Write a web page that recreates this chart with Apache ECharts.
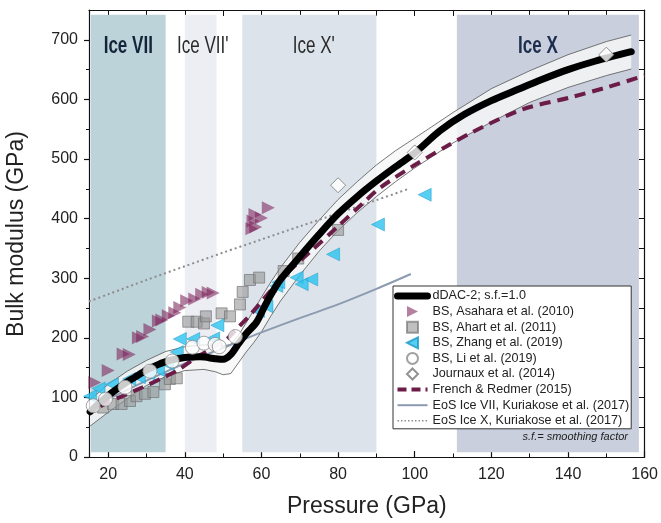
<!DOCTYPE html>
<html>
<head>
<meta charset="utf-8">
<script src="https://cdn.jsdelivr.net/npm/echarts@6/dist/echarts.min.js"></script>
<style>
html,body{margin:0;padding:0;background:#fff;}
#chart{width:661px;height:523px;}
</style>
</head>
<body>
<div id="chart"></div>
<script>
// ---------- DATA ----------
const xMajorTicks = [20, 40, 60, 80, 100, 120, 140, 160];
const xMinorTicks = [30, 50, 70, 90, 110, 130, 150];
const xTopTicks = [20, 30, 40, 50, 60, 70, 80, 90, 100, 110, 120, 130, 140, 150, 160];
const yMajorTicks = [0, 100, 200, 300, 400, 500, 600, 700];
const yMinorTicks = [50, 150, 250, 350, 450, 550, 650];
const yRightTicks = [50, 100, 150, 200, 250, 300, 350, 400, 450, 500, 550, 600, 650, 700];

// phase bands [from, to] in GPa
const bandNames = ["Ice VII", "Ice VII'", "Ice X'", "Ice X"];
const bandFrom = [15.5, 40, 55, 111];
const bandTo = [35, 48.3, 90, 158.5];

// dDAC-2 fit (center) and its envelope
const fitP = [15.3, 18, 21, 24, 27, 30, 33, 36, 40, 44, 48, 50, 52, 54, 56, 58.7, 61, 63, 65, 70, 75, 80, 85, 90, 95, 100, 106.5, 113, 120, 127, 133, 140, 147, 156.5];
const fitK = [76, 92, 108, 122, 134, 146, 155, 162, 167, 168, 165, 164, 172, 190, 207, 226, 255, 278, 298, 336, 373, 408, 437, 463, 487, 510, 547, 575, 598, 617, 633, 650, 664, 680];

const envP = [15.3, 20, 25, 30, 35, 40, 45, 48, 50, 52, 54, 56, 58, 60, 62.5, 65, 70, 75, 80, 85, 90, 95, 100, 110, 120, 130, 140, 150, 156.5];
const envUpper = [96, 122, 144, 162, 177, 185, 188, 188, 186, 189, 204, 225, 246, 268, 294, 318, 360, 397, 432, 462, 490, 514, 535, 578, 618, 648, 675, 697, 708];
const envLower = [52, 75, 98, 120, 135, 145, 147, 143, 138, 140, 158, 176, 192, 210, 237, 262, 305, 345, 380, 410, 437, 462, 485, 527, 562, 595, 620, 640, 651];

// French & Redmer (2015)
const frenchP = [18, 20, 24, 29, 34, 38, 43, 47, 51, 54, 57, 65, 73, 80, 87, 91, 100, 108, 115, 128, 141, 150, 160];
const frenchK = [85, 92, 103, 117, 132, 145, 167, 182, 198, 218, 238, 298, 346, 387, 429, 452, 490, 520, 545, 583, 604, 620, 640];

// EoS Ice VII, Kuriakose et al. (2017)
const eos7P = [15, 20, 30, 40, 50, 60, 70, 80, 90, 99];
const eos7K = [80, 97, 128, 157, 183, 209, 233, 256, 282, 307];

// EoS Ice X, Kuriakose et al. (2017)
const eosXP = [15, 20, 30, 40, 50, 60, 70, 80, 90, 98];
const eosXK = [261, 273, 297, 320, 343, 365, 387, 409, 431, 449];

// BS, Asahara et al. (2010)
const asaharaP = [16.5, 20, 23.9, 25.5, 27.9, 29, 30.9, 33.1, 34, 35.7, 37.4, 38.7, 40.5, 42.6, 44.4, 46.1, 47.4, 57.5, 58.5, 57.8, 58.3, 60, 61.8];
const asaharaK = [125, 145, 173, 172, 200, 202, 214, 228, 230, 237, 242, 251, 262, 265, 273, 276, 275, 383, 386, 396, 407, 401, 418];

// BS, Ahart et al. (2011)
const ahartP = [18.7, 21.3, 23.5, 25.7, 27.4, 29.6, 31.8, 34.8, 36.1, 37.9, 40.9, 43.1, 45, 45.5, 49.6, 51.8, 54.4, 55.1, 57, 59.4, 65.8, 69.6, 80];
const ahartK = [83, 89, 89, 94, 102, 106, 109, 122, 131, 132, 227, 227, 224, 236, 241, 236, 256, 277, 297, 301, 312, 333, 381];

// BS, Zhang et al. (2019)
const zhangP = [15.3, 17.5, 21, 25.5, 28, 30.5, 33, 35.5, 37.9, 38.7, 42.2, 47.4, 48.5, 59.1, 61.3, 63.9, 64.4, 69.2, 70.5, 73, 78.7, 90.4, 102.6];
const zhangK = [102, 115, 122, 131, 134, 140, 146, 156, 176, 198, 198, 199, 221, 245, 253, 287, 293, 301, 290, 298, 340, 390, 440];

// BS, Li et al. (2019)
const liP = [16.1, 19.3, 24.4, 30.9, 36.7, 42, 45, 47.9, 49, 53.2];
const liK = [86, 97, 117, 144, 161, 184, 191, 189, 185, 202];

// Journaux et al. (2014)
const journauxP = [80, 100, 150];
const journauxK = [456, 511, 675];

// ---------- BUILD ----------
const pairs = (xs, ys) => xs.map((x, i) => [x, ys[i]]);
const FONT = "'Liberation Sans', Arial, Helvetica, sans-serif";

const bandColors = ['#bcd3d9', '#eceef4', '#dde3eb', '#c9cfdc'];
const bandLabelColors = ['#14243a', '#2a2a2a', '#2a2a2a', '#1c2d4d'];
const bandLabelWeights = ['bold', 'normal', 'normal', 'bold'];
const bandLabelPxOffset = [0, 2, 4.5, -10];

const bandData = bandNames.map((n, i) => [
  { name: n, xAxis: bandFrom[i], yAxis: 8, itemStyle: { color: bandColors[i] } },
  { xAxis: bandTo[i], yAxis: 742 }
]);

const LEG = {
  fit: 'dDAC-2; s.f.=1.0',
  asa: 'BS, Asahara et al. (2010)',
  aha: 'BS, Ahart et al. (2011)',
  zha: 'BS, Zhang et al. (2019)',
  li: 'BS, Li et al. (2019)',
  jou: 'Journaux et al. (2014)',
  fre: 'French & Redmer (2015)',
  e7: 'EoS Ice VII, Kuriakose et al. (2017)',
  ex: 'EoS Ice X, Kuriakose et al. (2017)'
};

const chart = echarts.init(document.getElementById('chart'), null, { renderer: 'canvas' });

const axisLineStyle = { color: '#111', width: 1.2 };
const noSym = { opacity: 0 };

const option = {
  animation: false,
  backgroundColor: '#fff',
  grid: { left: 89, right: 16, top: 10, bottom: 65, containLabel: false },
  xAxis: [
    {
      type: 'value', min: 15, max: 160, position: 'bottom',
      axisLine: { show: true, onZero: false, lineStyle: axisLineStyle },
      axisTick: { show: true, inside: true, length: 6, customValues: xMajorTicks, lineStyle: { color: '#111', width: 1.2 } },
      axisLabel: { customValues: xMajorTicks, fontSize: 16, color: '#222', margin: 10, fontFamily: FONT },
      splitLine: { show: false },
      name: 'Pressure (GPa)', nameLocation: 'middle', nameGap: 38,
      nameTextStyle: { fontSize: 23, color: '#222', fontFamily: FONT }
    },
    {
      type: 'value', min: 15, max: 160, position: 'bottom',
      axisLine: { show: false, onZero: false },
      axisTick: { show: true, inside: true, length: 3.5, customValues: xMinorTicks, lineStyle: { color: '#111', width: 1 } },
      axisLabel: { show: false }, splitLine: { show: false }
    },
    {
      type: 'value', min: 15, max: 160, position: 'top',
      axisLine: { show: true, onZero: false, lineStyle: axisLineStyle },
      axisTick: { show: true, inside: true, length: 6, customValues: xTopTicks, lineStyle: { color: '#111', width: 1 } },
      axisLabel: { show: false }, splitLine: { show: false }
    }
  ],
  yAxis: [
    {
      type: 'value', min: 0, max: 750, position: 'left',
      axisLine: { show: true, onZero: false, lineStyle: axisLineStyle },
      axisTick: { show: true, inside: false, length: 5, customValues: yMajorTicks, lineStyle: { color: '#111', width: 1.2 } },
      axisLabel: { customValues: yMajorTicks, fontSize: 16, color: '#222', margin: 11, fontFamily: FONT },
      splitLine: { show: false }
    },
    {
      type: 'value', min: 0, max: 750, position: 'left',
      axisLine: { show: false, onZero: false },
      axisTick: { show: true, inside: false, length: 3, customValues: yMinorTicks, lineStyle: { color: '#111', width: 1 } },
      axisLabel: { show: false }, splitLine: { show: false }
    },
    {
      type: 'value', min: 0, max: 750, position: 'right',
      axisLine: { show: true, onZero: false, lineStyle: axisLineStyle },
      axisTick: { show: true, inside: true, length: 6, customValues: yRightTicks, lineStyle: { color: '#111', width: 1 } },
      axisLabel: { show: false }, splitLine: { show: false }
    }
  ],
  legend: {
    orient: 'vertical', left: 393, top: 286,
    backgroundColor: '#fff', borderColor: '#333', borderWidth: 1,
    padding: [3, 2, 1, 1],
    itemWidth: 30, itemHeight: 11, itemGap: 1.6,
    textStyle: { fontSize: 12.6, color: '#222', lineHeight: 14, fontFamily: FONT },
    data: [
      { name: LEG.fit, itemStyle: noSym, lineStyle: { width: 7, cap: 'round', color: '#000' } },
      { name: LEG.asa },
      { name: LEG.aha },
      { name: LEG.zha },
      { name: LEG.li },
      { name: LEG.jou },
      { name: LEG.fre, itemStyle: noSym, lineStyle: { width: 4, type: [9, 5], color: '#6b1c47' } },
      { name: LEG.e7, itemStyle: noSym, lineStyle: { width: 2, color: '#8b9bb0' } },
      { name: LEG.ex, itemStyle: noSym, lineStyle: { width: 1.5, type: [1.5, 2], color: '#8d8d8d' } }
    ],
    selectedMode: false
  },
  graphic: [
    {
      type: 'text', x: 17, y: 234, rotation: Math.PI / 2, z: 100,
      style: { text: 'Bulk modulus (GPa)', fontSize: 23, fontFamily: FONT, fill: '#222', textAlign: 'center', textVerticalAlign: 'middle' }
    },
    {
      type: 'text', x: 628, y: 437, z: 100,
      style: { text: 's.f.= smoothing factor', fontSize: 11, fontStyle: 'italic', fontFamily: FONT, fill: '#222', textAlign: 'right', textVerticalAlign: 'middle' }
    }
  ],
  series: [
    {
      name: 'bands', type: 'line', data: [], z: 1, silent: true,
      markArea: { silent: true, label: { show: false }, data: bandData }
    },
    {
      name: 'envFill', type: 'custom', z: 2, silent: true,
      data: envP.map((p, i) => [p, envLower[i], envUpper[i]]),
      encode: { x: 0, y: [1, 2] },
      renderItem: function (params, api) {
        if (params.dataIndex !== 0) return null;
        const pts = [];
        for (let i = 0; i < envP.length; i++) pts.push(api.coord([envP[i], envUpper[i]]));
        for (let i = envP.length - 1; i >= 0; i--) pts.push(api.coord([envP[i], envLower[i]]));
        return { type: 'polygon', shape: { points: pts }, style: { fill: 'rgba(246,246,246,0.82)' } };
      }
    },
    {
      name: 'envLow', type: 'line', z: 3, silent: true, symbol: 'none',
      data: pairs(envP, envLower),
      lineStyle: { color: '#555', width: 0.8 }
    },
    {
      name: 'envUp', type: 'line', z: 3, silent: true, symbol: 'none',
      data: pairs(envP, envUpper),
      lineStyle: { color: '#555', width: 0.8 }
    },
    {
      name: LEG.e7, type: 'line', z: 3, symbol: 'none', smooth: 0.3,
      data: pairs(eos7P, eos7K),
      lineStyle: { color: '#8b9bb0', width: 2 }, itemStyle: { color: '#8b9bb0' }
    },
    {
      name: LEG.ex, type: 'line', z: 3, symbol: 'none', smooth: 0.3,
      data: pairs(eosXP, eosXK),
      lineStyle: { color: '#8d8d8d', width: 2, type: [2, 3] }, itemStyle: { color: '#8d8d8d' }
    },
    {
      name: LEG.aha, type: 'scatter', z: 4, symbol: 'path://M0,0L10,0L10,10L0,10Z', symbolKeepAspect: true, symbolSize: 11,
      data: pairs(ahartP, ahartK),
      itemStyle: { color: 'rgba(150,150,150,0.75)', borderColor: 'rgba(110,110,110,0.8)', borderWidth: 1 }
    },
    {
      name: LEG.asa, type: 'scatter', z: 4, symbol: 'path://M0,0L10,5L0,10Z', symbolKeepAspect: true, symbolSize: 13,
      data: pairs(asaharaP, asaharaK),
      itemStyle: { color: 'rgba(125,35,90,0.72)' }
    },
    {
      name: LEG.zha, type: 'scatter', z: 5, symbol: 'path://M10,0L0,5L10,10Z', symbolKeepAspect: true, symbolSize: 13,
      data: pairs(zhangP, zhangK),
      itemStyle: { color: '#2cc3f0', borderColor: '#1a98c8', borderWidth: 0.6 }
    },
    {
      name: LEG.fre, type: 'line', z: 6, symbol: 'none', smooth: 0.3,
      data: pairs(frenchP, frenchK),
      lineStyle: { color: '#6b1c47', width: 4, type: [11, 7] }, itemStyle: { color: '#6b1c47' }
    },
    {
      name: LEG.fit, type: 'line', z: 7, symbol: 'none', smooth: 0.3,
      data: pairs(fitP, fitK),
      lineStyle: { color: '#000', width: 7, cap: 'round' }, itemStyle: { color: '#000' }
    },
    {
      name: LEG.li, type: 'scatter', z: 8, symbol: 'circle', symbolSize: 14,
      data: pairs(liP, liK),
      itemStyle: { color: '#fff', borderColor: '#8a8a8a', borderWidth: 1 }
    },
    {
      name: LEG.jou, type: 'scatter', z: 8, symbol: 'path://M5,0L10,5L5,10L0,5Z', symbolKeepAspect: true, symbolSize: 15,
      data: pairs(journauxP, journauxK),
      itemStyle: { color: '#fff', borderColor: '#777', borderWidth: 1 }
    }
  ]
};

chart.setOption(option);

// phase labels, centred on each band through the x axis scale
const labelGraphics = bandNames.map((n, i) => {
  const cx = chart.convertToPixel({ xAxisIndex: 0 }, (bandFrom[i] + bandTo[i]) / 2) + bandLabelPxOffset[i];
  return {
    type: 'text', x: cx, y: 47, scaleX: 0.74, z: 50, silent: true,
    style: {
      text: n, fontSize: 23, fontFamily: FONT, fontWeight: bandLabelWeights[i],
      fill: bandLabelColors[i], textAlign: 'center', textVerticalAlign: 'middle'
    }
  };
});
chart.setOption({ graphic: option.graphic.concat(labelGraphics) });
</script>
</body>
</html>
